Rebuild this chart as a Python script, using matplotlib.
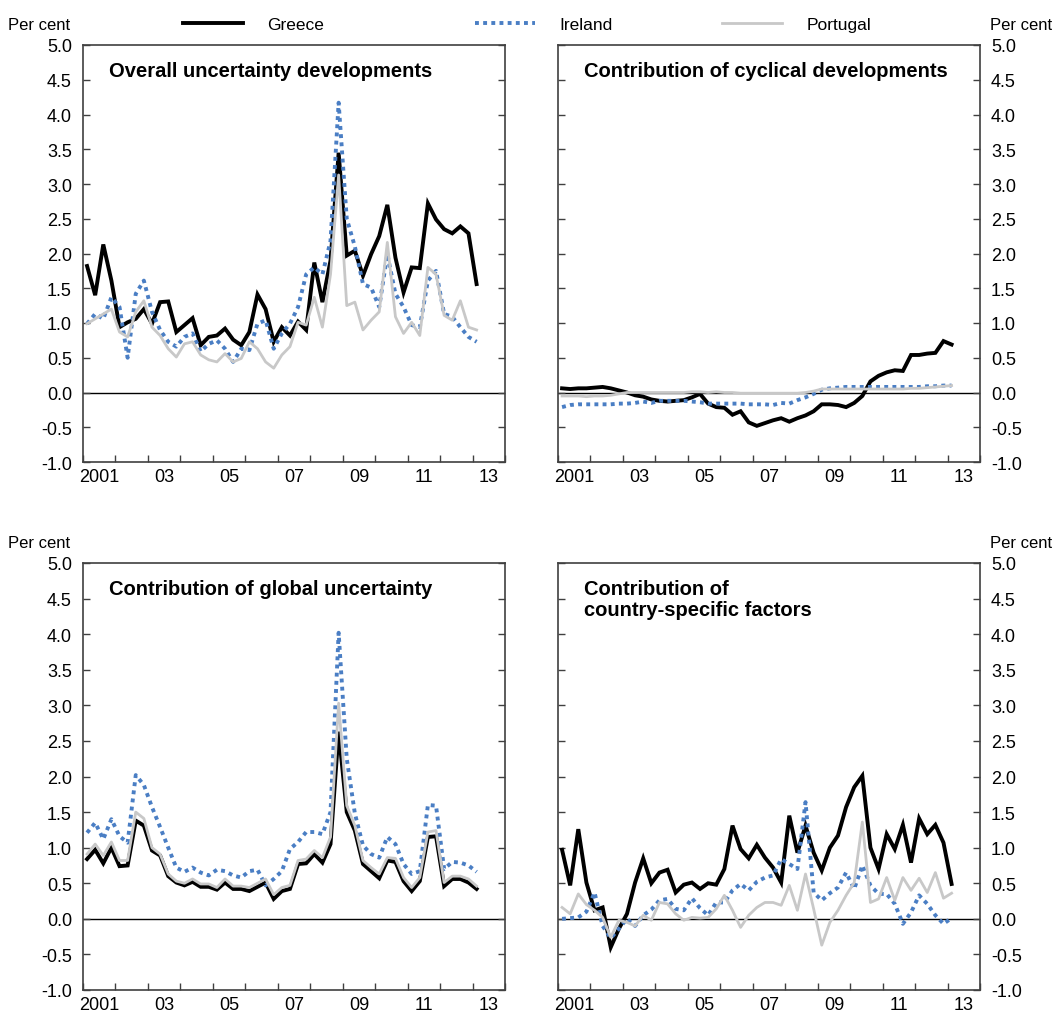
import numpy as np
import matplotlib
matplotlib.use("Agg")
import matplotlib.pyplot as plt

plt.rcParams['font.family'] = ['Liberation Sans', 'DejaVu Sans']

# Quarterly data 2001Q1 .. 2013Q1
start_year = 2001
n_quarters = 49

overall_greece = [1.82, 1.40, 2.13, 1.61, 0.94, 1.01, 1.06, 1.20, 0.99, 1.30, 1.31, 0.87, 0.97, 1.07,
                  0.68, 0.80, 0.82, 0.92, 0.76, 0.68, 0.87, 1.41, 1.20, 0.73, 0.94, 0.82, 1.02, 0.90,
                  1.87, 1.30, 1.90, 3.45, 1.97, 2.04, 1.68, 1.99, 2.25, 2.70, 1.94, 1.44, 1.80, 1.79,
                  2.72, 2.49, 2.35, 2.29, 2.39, 2.29, 1.56]
overall_ireland = [0.99, 1.13, 1.06, 1.37, 1.23, 0.50, 1.42, 1.61, 1.16, 0.90, 0.73, 0.66, 0.80, 0.85,
                   0.59, 0.70, 0.75, 0.63, 0.44, 0.63, 0.61, 0.99, 1.04, 0.63, 0.85, 0.99, 1.23, 1.70,
                   1.80, 1.70, 2.18, 4.17, 2.50, 2.10, 1.56, 1.51, 1.23, 1.99, 1.42, 1.23, 0.97, 0.94,
                   1.61, 1.75, 1.13, 1.09, 0.94, 0.80, 0.73]
overall_portugal = [0.99, 1.06, 1.13, 1.20, 0.87, 0.80, 1.16, 1.32, 0.94, 0.82, 0.63, 0.51, 0.70, 0.73,
                    0.54, 0.47, 0.44, 0.56, 0.44, 0.49, 0.73, 0.63, 0.44, 0.35, 0.54, 0.66, 1.01, 0.97,
                    1.37, 0.94, 1.70, 3.13, 1.25, 1.30, 0.90, 1.04, 1.16, 2.16, 1.09, 0.85, 1.01, 0.82,
                    1.80, 1.70, 1.11, 1.04, 1.32, 0.94, 0.90]

cyclical_greece = [0.06, 0.05, 0.06, 0.06, 0.07, 0.08, 0.06, 0.03, 0.00, -0.04, -0.06, -0.10, -0.12, -0.13,
                   -0.12, -0.11, -0.07, -0.02, -0.16, -0.21, -0.22, -0.32, -0.27, -0.43, -0.48, -0.44,
                   -0.40, -0.37, -0.42, -0.37, -0.33, -0.27, -0.17, -0.17, -0.18, -0.21, -0.15, -0.05,
                   0.16, 0.24, 0.29, 0.32, 0.31, 0.54, 0.54, 0.56, 0.57, 0.74, 0.69]
cyclical_ireland = [-0.21, -0.18, -0.17, -0.17, -0.17, -0.17, -0.17, -0.16, -0.16, -0.15, -0.13, -0.15,
                    -0.12, -0.12, -0.12, -0.12, -0.13, -0.14, -0.16, -0.16, -0.16, -0.16, -0.16, -0.17,
                    -0.17, -0.17, -0.18, -0.15, -0.16, -0.11, -0.07, -0.02, 0.04, 0.06, 0.07, 0.08,
                    0.08, 0.08, 0.08, 0.08, 0.08, 0.08, 0.08, 0.08, 0.08, 0.09, 0.09, 0.10, 0.10]
cyclical_portugal = [-0.05, -0.05, -0.05, -0.06, -0.05, -0.05, -0.04, -0.02, 0.00, 0.00, 0.00, 0.00,
                     0.00, 0.00, 0.00, 0.00, 0.01, 0.01, 0.00, 0.01, 0.00, 0.00, -0.01, -0.01, -0.01,
                     -0.01, -0.01, -0.01, -0.01, -0.01, 0.00, 0.02, 0.05, 0.05, 0.05, 0.05, 0.05, 0.05,
                     0.05, 0.05, 0.05, 0.05, 0.05, 0.06, 0.06, 0.07, 0.08, 0.09, 0.10]

global_greece = [0.84, 0.97, 0.78, 1.00, 0.74, 0.75, 1.38, 1.31, 0.96, 0.89, 0.60, 0.51, 0.47, 0.52,
                 0.45, 0.45, 0.41, 0.51, 0.42, 0.42, 0.39, 0.45, 0.51, 0.28, 0.39, 0.42, 0.77, 0.78,
                 0.91, 0.79, 1.05, 2.63, 1.50, 1.24, 0.77, 0.67, 0.57, 0.82, 0.80, 0.53, 0.39, 0.53,
                 1.15, 1.16, 0.46, 0.56, 0.56, 0.51, 0.42]
global_ireland = [1.21, 1.35, 1.12, 1.40, 1.16, 1.07, 2.02, 1.88, 1.57, 1.29, 1.00, 0.72, 0.66, 0.72,
                  0.65, 0.61, 0.69, 0.67, 0.61, 0.58, 0.67, 0.69, 0.47, 0.56, 0.67, 0.98, 1.08, 1.22,
                  1.22, 1.19, 1.50, 4.02, 2.25, 1.48, 1.03, 0.91, 0.86, 1.15, 1.05, 0.77, 0.63, 0.67,
                  1.60, 1.59, 0.70, 0.80, 0.79, 0.75, 0.66]
global_portugal = [0.91, 1.05, 0.89, 1.08, 0.82, 0.82, 1.50, 1.41, 1.00, 0.91, 0.63, 0.53, 0.50, 0.56,
                   0.49, 0.49, 0.44, 0.56, 0.46, 0.46, 0.44, 0.50, 0.56, 0.34, 0.44, 0.47, 0.82, 0.84,
                   0.96, 0.86, 1.15, 3.03, 1.59, 1.31, 0.82, 0.72, 0.63, 0.86, 0.85, 0.58, 0.44, 0.58,
                   1.22, 1.24, 0.51, 0.60, 0.60, 0.56, 0.46]

country_greece = [0.97, 0.47, 1.26, 0.51, 0.12, 0.16, -0.40, -0.14, 0.07, 0.51, 0.85, 0.50, 0.65, 0.69,
                  0.37, 0.48, 0.51, 0.42, 0.50, 0.48, 0.70, 1.31, 0.98, 0.85, 1.04, 0.86, 0.72, 0.51,
                  1.45, 0.93, 1.31, 0.93, 0.68, 1.00, 1.17, 1.57, 1.85, 2.01, 1.00, 0.70, 1.19, 0.98,
                  1.32, 0.79, 1.41, 1.19, 1.32, 1.07, 0.49]
country_ireland = [0.00, 0.01, 0.02, 0.10, 0.37, -0.10, -0.27, -0.14, 0.00, -0.10, 0.05, 0.13, 0.26, 0.28,
                   0.14, 0.12, 0.29, 0.15, 0.05, 0.23, 0.23, 0.40, 0.49, 0.40, 0.52, 0.58, 0.61, 0.84,
                   0.77, 0.70, 1.64, 0.37, 0.26, 0.36, 0.44, 0.65, 0.42, 0.75, 0.47, 0.35, 0.35, 0.21,
                   -0.07, 0.09, 0.33, 0.21, 0.05, -0.07, 0.01]
country_portugal = [0.16, 0.07, 0.35, 0.20, 0.12, 0.02, -0.26, -0.02, -0.05, -0.10, 0.05, -0.02, 0.23, 0.21,
                    0.07, -0.02, 0.02, 0.01, 0.02, 0.14, 0.33, 0.12, -0.12, 0.05, 0.16, 0.23, 0.23, 0.19,
                    0.47, 0.12, 0.63, 0.14, -0.37, -0.05, 0.12, 0.33, 0.51, 1.36, 0.23, 0.28, 0.58, 0.26,
                    0.58, 0.40, 0.57, 0.37, 0.65, 0.29, 0.36]

countries = ["Greece", "Ireland", "Portugal"]
titles = ["Overall uncertainty developments", "Contribution of cyclical developments",
          "Contribution of global uncertainty", "Contribution of\ncountry-specific factors"]
year_labels = ["2001", "03", "05", "07", "09", "11", "13"]
y_ticks = [-1.0, -0.5, 0.0, 0.5, 1.0, 1.5, 2.0, 2.5, 3.0, 3.5, 4.0, 4.5, 5.0]

panels = [
    (overall_greece, overall_ireland, overall_portugal),
    (cyclical_greece, cyclical_ireland, cyclical_portugal),
    (global_greece, global_ireland, global_portugal),
    (country_greece, country_ireland, country_portugal),
]

styles = [
    dict(color="black", lw=2.8, linestyle="-", solid_joinstyle="miter"),
    dict(color="#4A7EC4", lw=2.8, linestyle=(0, (1.0, 1.1)), dash_capstyle="butt"),
    dict(color="#C8C8C8", lw=2.0, linestyle="-"),
]

W, H = 1054, 1012
fig = plt.figure(figsize=(W / 100, H / 100), dpi=100)

# axes boxes in pixels: (left, top, right, bottom)
boxes = [(83, 46, 505, 463), (558, 46, 980, 463), (83, 564, 505, 991), (558, 564, 980, 991)]

xq = start_year + np.arange(n_quarters) / 4.0 + 0.125

axes = []
for k, (box, data, title) in enumerate(zip(boxes, panels, titles)):
    l, t, r, b = box
    ax = fig.add_axes([l / W, 1 - b / H, (r - l) / W, (b - t) / H])
    axes.append(ax)
    for series, st, name in zip(data, styles, countries):
        ax.plot(xq, series, label=name, **st)
    ax.axhline(0, color="black", lw=1.0, zorder=1)
    ax.set_xlim(2001, 2014)
    ax.set_ylim(-1.0, 5.0)
    ax.set_yticks(y_ticks)
    ax.set_yticklabels([f"{v:.1f}" for v in y_ticks])
    ax.set_xticks(np.arange(2001, 2015))
    ax.set_xticklabels([])
    ax.set_xticks([2001.5 + 2 * i for i in range(len(year_labels))], minor=True)
    ax.set_xticklabels(year_labels, minor=True)
    ax.tick_params(axis="x", which="major", direction="in", length=5, width=1, color="#404040",
                   top=False)
    ax.tick_params(axis="x", which="minor", length=0, pad=4, labelsize=13)
    right = (k % 2 == 1)
    ax.tick_params(axis="y", direction="in", length=5, width=1, color="#404040", left=True,
                   right=True, labelleft=not right, labelright=right, labelsize=13, pad=8)
    for s in ax.spines.values():
        s.set_color("#404040")
        s.set_linewidth(1.2)
    ax.text(26 / (r - l), 1 - 16 / (b - t), title, transform=ax.transAxes, ha="left", va="top",
            fontsize=14.5, fontweight="bold", linespacing=1.1)
    # "Per cent" label
    if right:
        fig.text((W - 2) / W, 1 - (t - 21) / H, "Per cent", ha="right", va="center", fontsize=12)
    else:
        fig.text(8 / W, 1 - (t - 21) / H, "Per cent", ha="left", va="center", fontsize=12)

# Legend entries across the top
handles, labels = axes[0].get_legend_handles_labels()
legend_x = [183, 475, 722]
for hnd, lab, x0 in zip(handles, labels, legend_x):
    fig.legend([hnd], [lab], loc="center left", bbox_to_anchor=(x0 / W, 1 - 25 / H),
               frameon=False, fontsize=12.5, handlelength=3.45, handletextpad=1.4,
               borderpad=0, borderaxespad=0)

fig.savefig("out.png", dpi=100)
